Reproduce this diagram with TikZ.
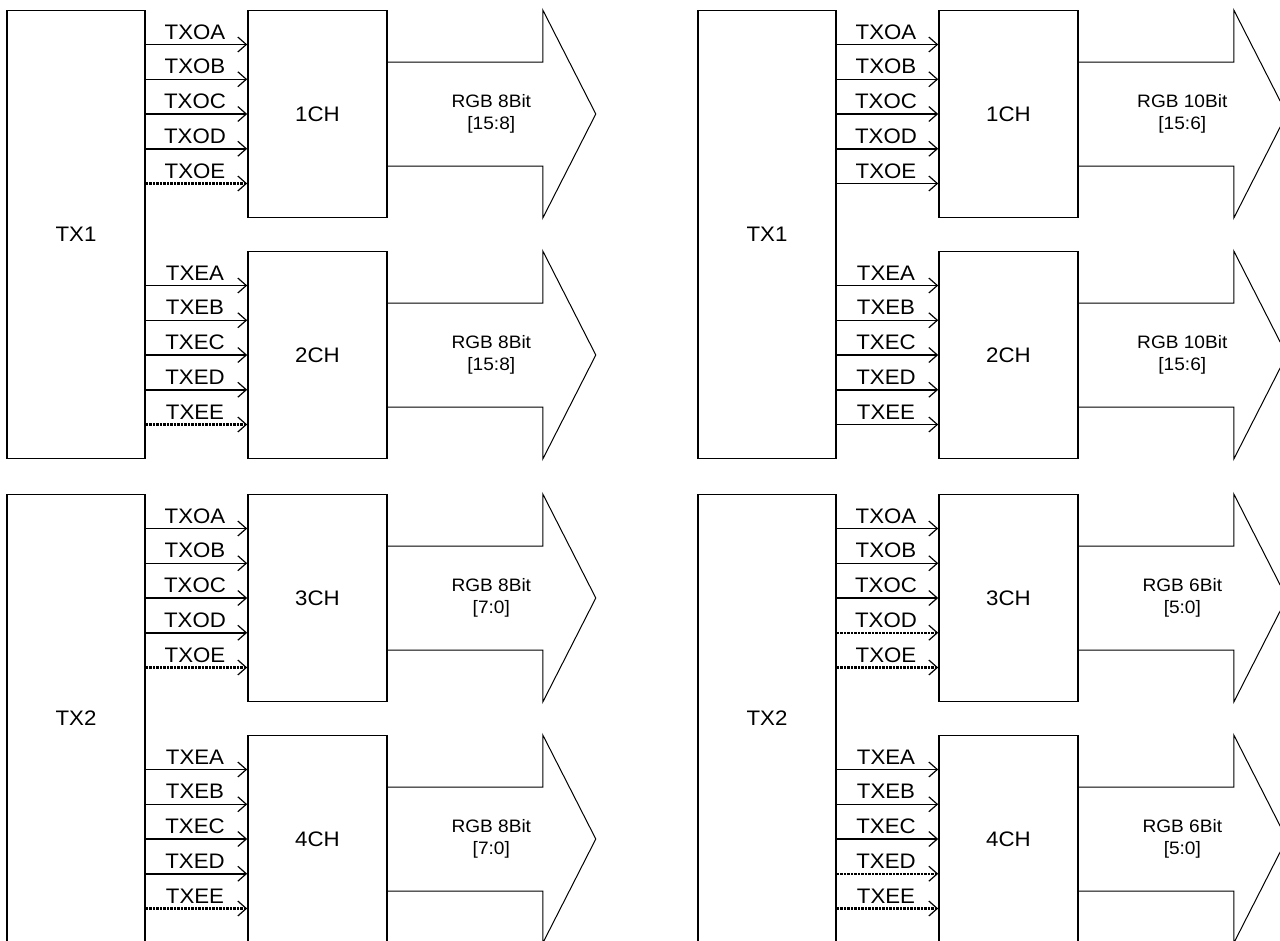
\documentclass[tikz,border=0pt]{standalone}
\usepackage{fontspec}
\setmainfont{Liberation Sans}[FakeStretch=1.06]
\usetikzlibrary{arrows.meta}
\tikzset{
  box/.style={draw, line width=1.6pt, inner sep=0pt, font=\fontsize{21}{24}\selectfont},
  sig/.style={line width=1.5pt, -{Straight Barb[length=8.5pt,width=15pt,line width=1.2pt]}},
  sigdot/.style={sig, dash pattern=on 2.2pt off 1.3pt, line width=2.4pt},
  siglabel/.style={midway, anchor=base, yshift=5.5pt, xshift=-1.5pt, inner sep=0pt, font=\fontsize{21}{24}\selectfont},
  bigarrow/.style={draw, line width=1pt, line join=miter},
  arrowtext/.style={align=center, inner sep=0pt, font=\fontsize{18}{22}\selectfont},
}
% #1 channel node, #2 tx node, #3 O/E, #4 style D, #5 style E, #6 line1, #7 line2
\newcommand\mychan[7]{%
  \coordinate (#1p1) at ([yshift=69.5pt]#1.west);
  \coordinate (#1p2) at ([yshift=34.75pt]#1.west);
  \coordinate (#1p3) at (#1.west);
  \coordinate (#1p4) at ([yshift=-34.75pt]#1.west);
  \coordinate (#1p5) at ([yshift=-69.5pt]#1.west);
  \draw[sig] (#2.east |- #1p1) -- node[siglabel] (#1t1) {TX#3A} (#1p1);
  \draw[sig] (#2.east |- #1p2) -- node[siglabel] (#1t2) {TX#3B} (#1p2);
  \draw[sig] (#2.east |- #1p3) -- node[siglabel] (#1t3) {TX#3C} (#1p3);
  \draw[#4] (#2.east |- #1p4) -- node[siglabel] (#1t4) {TX#3D} (#1p4);
  \draw[#5] (#2.east |- #1p5) -- node[siglabel] (#1t5) {TX#3E} (#1p5);
  \draw[bigarrow] ([yshift=52pt]#1.east) -- ++(155pt,0pt) -- ++(0pt,52pt)
     -- ++(53pt,-104pt) -- ++(-53pt,-104pt) -- ++(0pt,52pt) -- ([yshift=-52pt]#1.east);
  \node[arrowtext] (#1txt) at ([xshift=103.5pt]#1.east) {#6\\\relax#7};
}
% #1 prefix, #2 shift, #3 TX label, #4 chA, #5 chB, #6 line1, #7 line2, #8 style D, #9 style E
\newcommand\mypanel[9]{%
  \begin{scope}[shift={#2}]
    \node[box, minimum width=138pt, minimum height=448pt] (#1tx) at (76,234.5) {#3};
    \node[box, minimum width=139pt, minimum height=207pt] (#1a) at (317.5,114) {#4};
    \node[box, minimum width=139pt, minimum height=207pt] (#1b) at (317.5,355) {#5};
    \mychan{#1a}{#1tx}{O}{#8}{#9}{#6}{#7}
    \mychan{#1b}{#1tx}{E}{#8}{#9}{#6}{#7}
  \end{scope}
}
\begin{document}
\begin{tikzpicture}[x=1pt, y=-1pt]
  \useasboundingbox (0,0) rectangle (1280,940);
  \clip (0,0) rectangle (1280,940);
  \fill[white] (0,0) rectangle (1280,940);
  \mypanel{tl}{(0,0)}{TX1}{1CH}{2CH}{RGB 8Bit}{[15:8]}{sig}{sigdot}
  \mypanel{bl}{(0,484)}{TX2}{3CH}{4CH}{RGB 8Bit}{[7:0]}{sig}{sigdot}
  \mypanel{tr}{(691,0)}{TX1}{1CH}{2CH}{RGB 10Bit}{[15:6]}{sig}{sig}
  \mypanel{br}{(691,484)}{TX2}{3CH}{4CH}{RGB 6Bit}{[5:0]}{sigdot}{sigdot}
\end{tikzpicture}
\end{document}
